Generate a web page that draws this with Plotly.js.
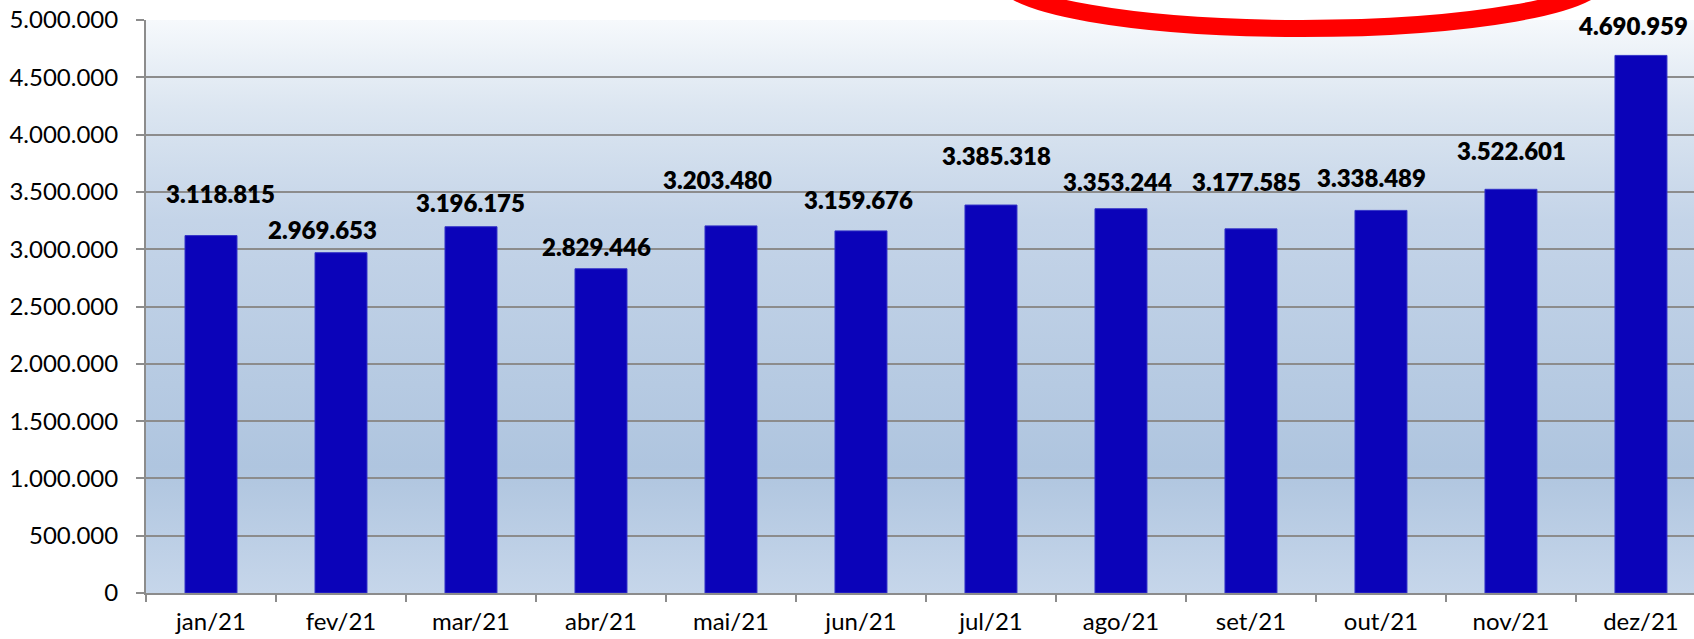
<!DOCTYPE html>
<html>
<head>
<meta charset="utf-8">
<script src="https://cdn.plot.ly/plotly-3.0.1.min.js"></script>
<style>
  html, body { margin: 0; padding: 0; background: #ffffff; }
  #chart { width: 1694px; height: 639px; }
</style>
</head>
<body>
<div id="chart"></div>
<script>
// ---- data ----
const months = ['jan/21', 'fev/21', 'mar/21', 'abr/21', 'mai/21', 'jun/21',
                'jul/21', 'ago/21', 'set/21', 'out/21', 'nov/21', 'dez/21'];
const values = [3118815, 2969653, 3196175, 2829446, 3203480, 3159676,
                3385318, 3353244, 3177585, 3338489, 3522601, 4690959];

// ---- label placement (pixel nudges, the labels were hand-placed in the original) ----
const labelShiftX = [9, -18, 0, -4, -13, -2, 6, -3, -4, -9, 1, -8];
const labelShiftY = [42, 23, 24, 22, 46, 31, 50, 27, 47, 33, 39, 30];

function fmt(n) {
  return String(n).replace(/\B(?=(\d{3})+(?!\d))/g, '.');
}

const gradSvg =
  '<svg xmlns="http://www.w3.org/2000/svg" width="100" height="100" viewBox="0 0 100 100" preserveAspectRatio="none">' +
  '<defs><linearGradient id="g" x1="0" y1="0" x2="0" y2="1">' +
  '<stop offset="0" stop-color="#f6f9fc"/>' +
  '<stop offset="0.15" stop-color="#dce6f1"/>' +
  '<stop offset="0.35" stop-color="#c4d4e8"/>' +
  '<stop offset="0.78" stop-color="#afc5df"/>' +
  '<stop offset="1" stop-color="#c6d6ea"/>' +
  '</linearGradient></defs>' +
  '<rect x="0" y="0" width="100" height="100" fill="url(#g)"/></svg>';

const trace = {
  type: 'bar',
  x: months,
  y: values,
  width: 0.4,
  marker: { color: '#0b03b9', line: { color: '#3434c8', width: 1 } },
  hoverinfo: 'x+y'
};

const annotations = months.map((m, i) => ({
  x: m,
  y: values[i],
  xref: 'x',
  yref: 'y',
  text: fmt(values[i]),
  showarrow: false,
  xanchor: 'center',
  yanchor: 'middle',
  xshift: labelShiftX[i],
  yshift: labelShiftY[i],
  font: { family: 'Lato, "Open Sans", sans-serif', size: 24, color: '#000000', weight: 800 }
}));

const layout = {
  width: 1694,
  height: 639,
  margin: { l: 146, r: 0, t: 20, b: 46, pad: 0 },
  paper_bgcolor: '#ffffff',
  plot_bgcolor: 'rgba(0,0,0,0)',
  separators: ',.',
  showlegend: false,
  font: { family: 'Lato, "Open Sans", sans-serif', color: '#000000' },
  xaxis: {
    type: 'category',
    range: [-0.5, 11.408],
    showgrid: false,
    showline: true,
    linecolor: '#8c8c8c',
    linewidth: 2,
    ticks: 'outside',
    tickson: 'boundaries',
    ticklen: 7,
    tickwidth: 2,
    tickcolor: '#8c8c8c',
    ticklabelstandoff: 6,
    tickfont: { size: 24, color: '#000000' },
    fixedrange: true
  },
  yaxis: {
    range: [0, 5000000],
    dtick: 500000,
    tick0: 0,
    tickformat: ',d',
    showgrid: true,
    gridcolor: '#8c8c8c',
    gridwidth: 2,
    showline: true,
    linecolor: '#8c8c8c',
    linewidth: 2,
    zeroline: false,
    ticks: 'outside',
    ticklen: 8,
    tickwidth: 2,
    tickcolor: '#8c8c8c',
    ticklabelstandoff: 13,
    tickfont: { size: 24, color: '#000000' },
    fixedrange: true
  },
  images: [{
    source: 'data:image/svg+xml;charset=utf-8,' + encodeURIComponent(gradSvg),
    xref: 'paper', yref: 'paper',
    x: 0, y: 1, sizex: 1, sizey: 1,
    xanchor: 'left', yanchor: 'top',
    sizing: 'stretch',
    layer: 'below'
  }],
  shapes: [{
    type: 'circle',
    xref: 'paper', yref: 'paper',
    x0: 0.5530, x1: 0.9406,
    y0: 0.9852, y1: 1.1667,
    line: { color: '#ff0000', width: 17 },
    fillcolor: 'rgba(0,0,0,0)',
    layer: 'above'
  }],
  annotations: annotations,
  bargap: 0.6
};

Plotly.newPlot('chart', [trace], layout, { displayModeBar: false, staticPlot: true });
</script>
</body>
</html>
